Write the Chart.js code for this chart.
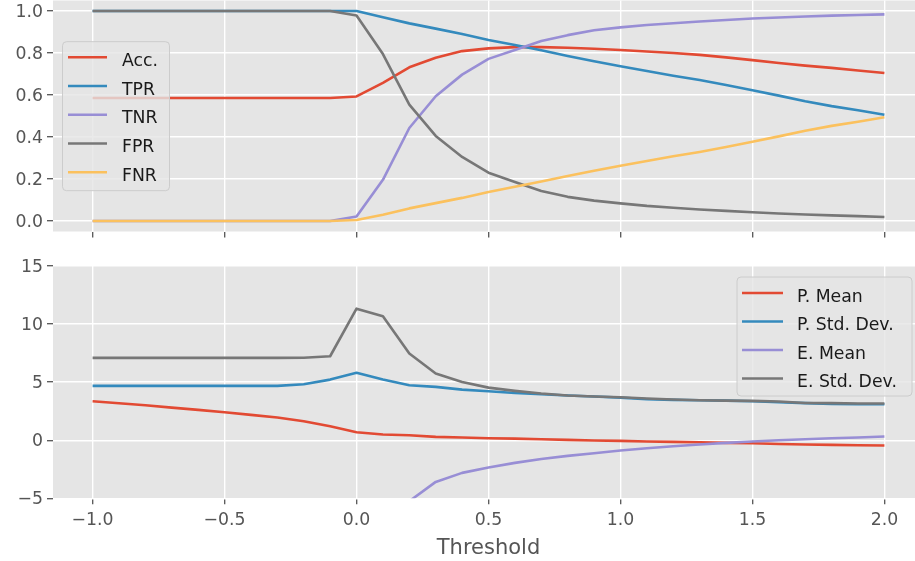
<!DOCTYPE html>
<html>
<head>
<meta charset="utf-8">
<script src="https://cdn.jsdelivr.net/npm/chart.js@4/dist/chart.umd.min.js"></script>
<style>
  html, body { margin: 0; padding: 0; overflow: hidden; background: #ffffff; width: 915px; height: 561px; }
  canvas { position: absolute; left: 0; }
  #rates { top: 0; width: 924px; height: 250px; }
  #moments { top: 250px; width: 924px; height: 311px; }
</style>
</head>
<body>
<canvas id="rates" width="924" height="250"></canvas>
<canvas id="moments" width="924" height="311"></canvas>
<script>
// Decision thresholds shared by both panels
const thresholds = [-1.0, -0.9, -0.8, -0.7, -0.6, -0.5, -0.4, -0.3, -0.2, -0.1,
  0.0, 0.1, 0.2, 0.3, 0.4, 0.5, 0.6, 0.7, 0.8, 0.9, 1.0,
  1.1, 1.2, 1.3, 1.4, 1.5, 1.6, 1.7, 1.8, 1.9, 2.0];

// Upper panel: classification rates
const accuracy = [0.586, 0.586, 0.586, 0.586, 0.586, 0.586, 0.586, 0.586, 0.586, 0.586,
  0.593, 0.658, 0.732, 0.777, 0.809, 0.822, 0.828, 0.828, 0.825, 0.820, 0.814,
  0.807, 0.800, 0.791, 0.779, 0.766, 0.752, 0.740, 0.729, 0.717, 0.705];
const tpr = [1.0, 1.0, 1.0, 1.0, 1.0, 1.0, 1.0, 1.0, 1.0, 1.0,
  1.0, 0.970, 0.941, 0.916, 0.890, 0.862, 0.838, 0.813, 0.786, 0.761, 0.737,
  0.714, 0.692, 0.671, 0.648, 0.623, 0.597, 0.570, 0.547, 0.527, 0.506];
const tnr = [0.0, 0.0, 0.0, 0.0, 0.0, 0.0, 0.0, 0.0, 0.0, 0.0,
  0.021, 0.196, 0.443, 0.594, 0.697, 0.772, 0.814, 0.857, 0.885, 0.908, 0.922,
  0.933, 0.942, 0.950, 0.957, 0.964, 0.969, 0.974, 0.978, 0.981, 0.984];
const fpr = [1.0, 1.0, 1.0, 1.0, 1.0, 1.0, 1.0, 1.0, 1.0, 1.0,
  0.979, 0.795, 0.554, 0.405, 0.305, 0.230, 0.186, 0.143, 0.115, 0.097, 0.084,
  0.072, 0.063, 0.055, 0.048, 0.042, 0.036, 0.031, 0.027, 0.023, 0.019];
const fnr = [0.0, 0.0, 0.0, 0.0, 0.0, 0.0, 0.0, 0.0, 0.0, 0.0,
  0.005, 0.030, 0.060, 0.085, 0.110, 0.138, 0.163, 0.188, 0.214, 0.239, 0.263,
  0.286, 0.308, 0.329, 0.352, 0.377, 0.403, 0.430, 0.453, 0.473, 0.494];

// Lower panel: score moments (null where the value lies far below the axis)
const pMean = [3.36, 3.19, 3.01, 2.81, 2.61, 2.41, 2.18, 1.95, 1.64, 1.20,
  0.69, 0.49, 0.43, 0.29, 0.23, 0.17, 0.14, 0.09, 0.03, -0.03, -0.06,
  -0.11, -0.14, -0.17, -0.23, -0.26, -0.32, -0.37, -0.40, -0.43, -0.46];
const pStd = [4.68, 4.68, 4.68, 4.68, 4.68, 4.68, 4.68, 4.68, 4.82, 5.22,
  5.80, 5.22, 4.73, 4.59, 4.36, 4.22, 4.07, 3.96, 3.85, 3.76, 3.67,
  3.53, 3.47, 3.44, 3.41, 3.36, 3.27, 3.19, 3.13, 3.10, 3.10];
const eMean = [null, null, null, null, null, null, null, null, null, null,
  null, null, -5.25, -3.59, -2.81, -2.35, -1.95, -1.61, -1.35, -1.12, -0.89,
  -0.69, -0.52, -0.37, -0.23, -0.11, 0.00, 0.09, 0.17, 0.23, 0.32];
const eStd = [7.09, 7.09, 7.09, 7.09, 7.09, 7.09, 7.09, 7.09, 7.10, 7.23,
  11.33, 10.67, 7.46, 5.74, 5.02, 4.53, 4.25, 4.02, 3.85, 3.76, 3.70,
  3.59, 3.50, 3.44, 3.41, 3.39, 3.33, 3.21, 3.19, 3.16, 3.16];

// Tick positions and their labels
const xTicks = [-1.0, -0.5, 0.0, 0.5, 1.0, 1.5, 2.0];
const xTickLabels = ['\u22121.0', '\u22120.5', '0.0', '0.5', '1.0', '1.5', '2.0'];
const rateTicks = [0.0, 0.2, 0.4, 0.6, 0.8, 1.0];
const rateTickLabels = ['0.0', '0.2', '0.4', '0.6', '0.8', '1.0'];
const momentTicks = [-5, 0, 5, 10, 15];
const momentTickLabels = ['\u22125', '0', '5', '10', '15'];

const rateNames = ['Acc.', 'TPR', 'TNR', 'FPR', 'FNR'];
const momentNames = ['P. Mean', 'P. Std. Dev.', 'E. Mean', 'E. Std. Dev.'];
const palette = ['#E24A33', '#348ABD', '#988ED5', '#777777', '#FBC15E'];

const FONT = '"DejaVu Sans", "Liberation Sans", sans-serif';
const TICK_SIZE = 17.3;

function series(values) {
  return thresholds.map((t, i) => ({ x: t, y: values[i] }));
}

function makeDatasets(names, arrays) {
  return names.map((name, i) => ({
    label: name,
    data: series(arrays[i]),
    borderColor: palette[i],
    backgroundColor: palette[i],
    borderWidth: 2.6,
    borderJoinStyle: 'round',
    pointRadius: 0,
    pointHoverRadius: 0,
    tension: 0,
    fill: false,
    spanGaps: false,
    clip: 0,
    order: names.length - i
  }));
}

// Grey panel background
const panelBackground = {
  id: 'panelBackground',
  beforeDraw(chart) {
    const a = chart.chartArea;
    const ctx = chart.ctx;
    ctx.save();
    ctx.fillStyle = '#E5E5E5';
    ctx.fillRect(a.left, a.top, a.right - a.left, a.bottom - a.top);
    ctx.restore();
  }
};

// Framed legend drawn inside the plot area
const panelLegend = {
  id: 'panelLegend',
  afterDatasetsDraw(chart, args, o) {
    if (!o || !o.box) return;
    const ctx = chart.ctx;
    const b = o.box;
    ctx.save();
    const r = 4;
    ctx.beginPath();
    ctx.moveTo(b.x + r, b.y);
    ctx.lineTo(b.x + b.w - r, b.y);
    ctx.arcTo(b.x + b.w, b.y, b.x + b.w, b.y + r, r);
    ctx.lineTo(b.x + b.w, b.y + b.h - r);
    ctx.arcTo(b.x + b.w, b.y + b.h, b.x + b.w - r, b.y + b.h, r);
    ctx.lineTo(b.x + r, b.y + b.h);
    ctx.arcTo(b.x, b.y + b.h, b.x, b.y + b.h - r, r);
    ctx.lineTo(b.x, b.y + r);
    ctx.arcTo(b.x, b.y, b.x + r, b.y, r);
    ctx.closePath();
    ctx.fillStyle = 'rgba(229,229,229,0.8)';
    ctx.fill();
    ctx.strokeStyle = '#CCCCCC';
    ctx.lineWidth = 1;
    ctx.stroke();
    ctx.font = TICK_SIZE + 'px ' + FONT;
    ctx.textAlign = 'left';
    ctx.textBaseline = 'alphabetic';
    chart.data.datasets.forEach((ds, i) => {
      const ry = b.y + o.firstRow + i * o.rowGap;
      ctx.beginPath();
      ctx.moveTo(o.lineX0, ry);
      ctx.lineTo(o.lineX1, ry);
      ctx.strokeStyle = ds.borderColor;
      ctx.lineWidth = ds.borderWidth;
      ctx.lineCap = 'butt';
      ctx.stroke();
      ctx.fillStyle = '#1a1a1a';
      ctx.fillText(ds.label, o.textX, ry + 8.6);
    });
    ctx.restore();
  }
};

function fixTicks(values) {
  return scale => { scale.ticks = values.map(v => ({ value: v })); };
}

function gridStyle() {
  return { color: '#FFFFFF', lineWidth: 1.4, drawTicks: true, tickLength: 6, tickColor: '#555555', tickWidth: 1.3 };
}

function buildChart(canvasId, datasets, yMin, yMax, yTicks, yLabels, showX, xAxisHeight, padTop, legend) {
  const xScale = {
    type: 'linear',
    min: -1.15,
    max: 2.15,
    offset: false,
    border: { display: false },
    grid: gridStyle(),
    afterBuildTicks: fixTicks(xTicks),
    afterFit: s => { s.height = xAxisHeight; s.paddingLeft = 0; s.paddingRight = 0; },
    ticks: {
      display: showX,
      autoSkip: false,
      maxRotation: 0,
      padding: 6,
      color: '#555555',
      font: { family: FONT, size: TICK_SIZE },
      callback: (v, i) => xTickLabels[i]
    },
    title: showX ? {
      display: true,
      text: 'Threshold',
      color: '#555555',
      font: { family: FONT, size: 21 },
      padding: { top: 0, bottom: 0 }
    } : { display: false }
  };
  const yScale = {
    type: 'linear',
    min: yMin,
    max: yMax,
    border: { display: false },
    grid: gridStyle(),
    afterBuildTicks: fixTicks(yTicks),
    afterFit: s => { s.width = 53; s.paddingTop = 0; s.paddingBottom = 0; },
    ticks: {
      autoSkip: false,
      padding: 4,
      labelOffset: 1.5,
      color: '#555555',
      font: { family: FONT, size: TICK_SIZE },
      callback: (v, i) => yLabels[i]
    }
  };
  return new Chart(document.getElementById(canvasId), {
    type: 'line',
    data: { datasets },
    options: {
      responsive: false,
      animation: false,
      devicePixelRatio: 1,
      layout: { padding: { top: padTop, left: 0, right: 0, bottom: 0 } },
      scales: { x: xScale, y: yScale },
      plugins: {
        legend: { display: false },
        tooltip: { enabled: false },
        panelLegend: legend
      }
    },
    plugins: [panelBackground, panelLegend]
  });
}

buildChart('rates',
  makeDatasets(rateNames, [accuracy, tpr, tnr, fpr, fnr]),
  -0.05, 1.05, rateTicks, rateTickLabels, false, 18.5, 0.5,
  { box: { x: 62.5, y: 41.7, w: 107, h: 149 }, firstRow: 15.6, rowGap: 28.75, lineX0: 68, lineX1: 107, textX: 122 });

buildChart('moments',
  makeDatasets(momentNames, [pMean, pStd, eMean, eStd]),
  -5, 15, momentTicks, momentTickLabels, true, 62.7, 16,
  { box: { x: 737, y: 27, w: 175, h: 119 }, firstRow: 16, rowGap: 28.5, lineX0: 742, lineX1: 783, textX: 797 });
</script>
</body>
</html>
